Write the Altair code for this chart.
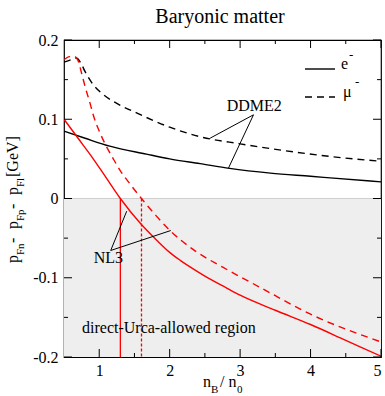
import altair as alt
import pandas as pd

# ---------------- data ----------------
ddme2_e_x = [0.5, 0.8, 1.15, 1.67, 2.0, 2.43, 2.85, 3.43, 4.0, 4.28, 5.0]
ddme2_e_y = [0.085, 0.076, 0.066, 0.056, 0.050, 0.044, 0.038, 0.032, 0.028, 0.026, 0.021]

ddme2_mu_x = [0.5, 0.6, 0.68, 0.75, 0.8, 0.92, 1.06, 1.25, 1.53, 2.0, 2.43, 3.0, 3.43, 4.28, 5.0]
ddme2_mu_y = [0.172, 0.175, 0.177, 0.169, 0.160, 0.143, 0.131, 0.120, 0.108, 0.090, 0.078, 0.069, 0.063, 0.053, 0.047]

nl3_e_x = [0.5, 0.7, 0.9, 1.1, 1.3, 1.58, 1.82, 2.0, 2.15, 2.3, 2.5, 2.81, 3.0, 3.5, 4.0, 4.5, 5.0]
nl3_e_y = [0.100, 0.076, 0.052, 0.026, 0.0, -0.031, -0.053, -0.068, -0.078, -0.087, -0.098, -0.113, -0.122, -0.141, -0.159, -0.179, -0.199]

nl3_mu_x = [0.5, 0.58, 0.65, 0.7, 0.75, 0.8, 0.87, 0.92, 1.0, 1.1, 1.2, 1.3, 1.44, 1.6, 1.8, 2.0, 2.36, 2.76, 3.28, 4.0, 5.0]
nl3_mu_y = [0.175, 0.179, 0.179, 0.174, 0.158, 0.141, 0.120, 0.104, 0.085, 0.066, 0.050, 0.035, 0.018, 0.0, -0.021, -0.040, -0.066, -0.087, -0.112, -0.146, -0.181]

# direct-Urca thresholds (NL3): electrons, muons
threshold_e = 1.3
threshold_mu = 1.6

x_ticks_major = [1, 2, 3, 4, 5]
x_ticks_minor = [1.5, 2.5, 3.5, 4.5]
y_ticks_major = [-0.2, -0.1, 0.0, 0.1, 0.2]
y_ticks_minor = [-0.15, -0.05, 0.05, 0.15]

W, H = 317, 317
FONT = "Liberation Serif"

xs = alt.Scale(domain=[0.5, 5], nice=False, zero=False)
ys = alt.Scale(domain=[-0.2, 0.2], nice=False, zero=False)


def curve(xv, yv, color, dash=None):
    df = pd.DataFrame({"x": xv, "y": yv})
    kw = dict(color=color, strokeWidth=1.4, clip=True, interpolate="monotone")
    if dash:
        kw["strokeDash"] = dash
    return alt.Chart(df).mark_line(**kw).encode(
        x=alt.X("x:Q", scale=xs), y=alt.Y("y:Q", scale=ys), order="x:Q"
    )


# shaded direct-Urca region
shade = alt.Chart(pd.DataFrame({"x": [0.5], "x2": [5], "y": [0.0], "y2": [-0.2]})).mark_rect(
    color="#eeeeee"
).encode(
    x=alt.X("x:Q", scale=xs,
            axis=alt.Axis(values=x_ticks_major, format="d", title=None, ticks=False, domain=False,
                          grid=False, labelFont=FONT, labelFontSize=16, labelColor="black",
                          labelPadding=5)),
    x2="x2:Q",
    y=alt.Y("y:Q", scale=ys,
            axis=alt.Axis(values=y_ticks_major, title=None, ticks=False, domain=False, grid=False,
                          labelFont=FONT, labelFontSize=16, labelColor="black", labelPadding=6,
                          labelExpr="datum.value == 0 ? '0' : (datum.value < 0 ? '-' + format(-datum.value, '.1f') : format(datum.value, '.1f'))")),
    y2="y2:Q",
)

zero_line = alt.Chart(pd.DataFrame({"y": [0.0]})).mark_rule(color="#cfcfcf", strokeWidth=1).encode(
    y=alt.Y("y:Q", scale=ys), x=alt.value(0), x2=alt.value(W)
)

vlines = alt.Chart(pd.DataFrame({"x": [threshold_e], "y": [0.0], "y2": [-0.2]})).mark_rule(
    color="red", strokeWidth=1.3
).encode(x=alt.X("x:Q", scale=xs), y=alt.Y("y:Q", scale=ys), y2="y2:Q")

vlines_mu = alt.Chart(pd.DataFrame({"x": [threshold_mu], "y": [0.0], "y2": [-0.2]})).mark_rule(
    color="red", strokeWidth=1.3, strokeDash=[3, 2]
).encode(x=alt.X("x:Q", scale=xs), y=alt.Y("y:Q", scale=ys), y2="y2:Q")

c1 = curve(ddme2_e_x, ddme2_e_y, "black")
c2 = curve(ddme2_mu_x, ddme2_mu_y, "black", [7, 5])
c3 = curve(nl3_e_x, nl3_e_y, "red")
c4 = curve(nl3_mu_x, nl3_mu_y, "red", [7, 5])

# annotation pointer lines
ann_lines = alt.Chart(pd.DataFrame({
    "x": [3.19, 3.19, 1.163, 1.163],
    "y": [0.1056, 0.1056, -0.0656, -0.0656],
    "x2": [2.574, 2.834, 1.39, 2.016],
    "y2": [0.0761, 0.0382, -0.016, -0.0404],
})).mark_rule(color="black", strokeWidth=1).encode(
    x=alt.X("x:Q", scale=xs), y=alt.Y("y:Q", scale=ys), x2="x2:Q", y2="y2:Q"
)

ann_text_c = alt.Chart(pd.DataFrame({
    "x": [3.2, 1.13], "y": [0.111, -0.082], "t": ["DDME2", "NL3"]
})).mark_text(font=FONT, fontSize=16, color="black", baseline="alphabetic", align="center").encode(
    x=alt.X("x:Q", scale=xs), y=alt.Y("y:Q", scale=ys), text="t:N"
)
ann_text_l = alt.Chart(pd.DataFrame({
    "x": [0.756], "y": [-0.170], "t": ["direct-Urca-allowed region"]
})).mark_text(font=FONT, fontSize=16, color="black", baseline="alphabetic", align="left").encode(
    x=alt.X("x:Q", scale=xs), y=alt.Y("y:Q", scale=ys), text="t:N"
)

# inward ticks
def ticks(vals, axis, length):
    df = pd.DataFrame({"v": vals})
    m = alt.Chart(df).mark_rule(color="black", strokeWidth=1)
    if axis == "bottom":
        return m.encode(x=alt.X("v:Q", scale=xs), y=alt.value(H), y2=alt.value(H - length))
    if axis == "top":
        return m.encode(x=alt.X("v:Q", scale=xs), y=alt.value(0), y2=alt.value(length))
    if axis == "left":
        return m.encode(y=alt.Y("v:Q", scale=ys), x=alt.value(0), x2=alt.value(length))
    return m.encode(y=alt.Y("v:Q", scale=ys), x=alt.value(W), x2=alt.value(W - length))

tick_layers = []
for ax in ["bottom", "top"]:
    tick_layers.append(ticks(x_ticks_major, ax, 8))
    tick_layers.append(ticks(x_ticks_minor, ax, 4))
for ax in ["left", "right"]:
    tick_layers.append(ticks(y_ticks_major, ax, 8))
    tick_layers.append(ticks(y_ticks_minor, ax, 4))

# legend (drawn by hand)
leg_e = alt.Chart(pd.DataFrame({"k": ["e"]})).mark_rule(color="black", strokeWidth=1.4).encode(
    x=alt.value(241), x2=alt.value(271), y=alt.value(29))
leg_mu = alt.Chart(pd.DataFrame({"k": ["mu"]})).mark_rule(color="black", strokeWidth=1.4, strokeDash=[7, 5]).encode(
    x=alt.value(241), x2=alt.value(271), y=alt.value(57))

def ptext(t, x, y, size=16, angle=None, align="left", baseline="alphabetic"):
    kw = dict(font=FONT, fontSize=size, color="black", align=align, baseline=baseline)
    if angle is not None:
        kw["angle"] = angle
    return alt.Chart(pd.DataFrame({"t": [t]})).mark_text(**kw).encode(
        text="t:N", x=alt.value(x), y=alt.value(y))

texts = [
    ptext("e", 277, 29),
    ptext("-", 285, 19, size=13),
    ptext("μ", 279, 57),
    ptext("-", 291, 46, size=13),
    # title
    ptext("Baryonic matter", 156, -17, size=20, align="center"),
    # x-axis title n_B / n_0
    ptext("n", 139, 30 + H, size=16),
    ptext("B", 147, 36 + H, size=11),
    ptext("/ n", 156, 30 + H, size=16),
    ptext("0", 173, 36 + H, size=11),
]

# y-axis title p_Fn - p_Fp - p_Fl [GeV] (rotated)
yt = [
    ("p", -46, 223, 16),
    ("Fn", -40, 215, 11),
    (" - ", -46, 203, 16),
    ("p", -46, 189, 16),
    ("Fp", -40, 181, 11),
    (" - ", -46, 169, 16),
    ("p", -46, 155, 16),
    ("Fl", -40, 147, 11),
    (" [GeV]", -46, 137, 16),
]
for t, x, y, s in yt:
    texts.append(ptext(t, x, y, size=s, angle=270))

layers = [shade, zero_line, vlines, vlines_mu, c1, c2, c3, c4, ann_lines, ann_text_c, ann_text_l,
          leg_e, leg_mu] + tick_layers + texts

chart = alt.layer(*layers).properties(
    width=W, height=H,
    autosize=alt.AutoSizeParams(type="none"),
    padding={"left": 64, "top": 40, "right": 4, "bottom": 39},
).configure_view(stroke="black", strokeWidth=1.2).configure_axis(grid=False)

chart.save("out.html", embed_options={"renderer": "svg", "actions": False})
